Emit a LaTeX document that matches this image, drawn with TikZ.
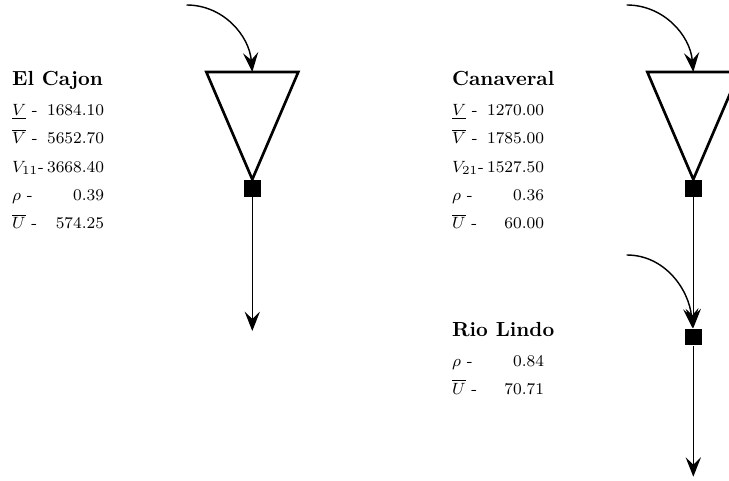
\documentclass[tikz,border=0pt]{standalone}
\usepackage{amsmath,amssymb}
\usepackage{tikz}
\usetikzlibrary{arrows.meta,positioning,calc}
\renewcommand{\arraystretch}{1.46}
\newcommand{\rowval}[2]{\makebox[17.6pt][l]{#1}\makebox[27.4pt][r]{#2}}
\tikzset{
    reservoir/.style={line width=1.3pt, line join=miter},
    plant/.style={rectangle, fill=black, minimum size=8.3pt, inner sep=0pt},
    river/.style={line width=0.5pt, -{Stealth[length=9.5pt,width=7.5pt,inset=3.6pt]}},
    inflow/.style={line width=0.7pt, -{Stealth[length=9.5pt,width=7.5pt,inset=3.6pt]}},
    station/.style={anchor=base west, inner sep=0pt, font=\footnotesize},
}

\begin{document}
\begin{tikzpicture}[x=0.49pt,y=0.49pt]
    \useasboundingbox (0,0) rectangle (729,481);
    \clip (0,0) rectangle (729,481);
    % El Cajon
    \coordinate (res1) at (252.3,409);
    \coordinate (in1) at (186.5,476);
    \coordinate (out1) at (252.3,150);
    \node[plant] (p1) at (252.3,292.7) {};
    \draw[reservoir] (res1) ++(-46,0) -- ++(92,0) -- (p1.north) -- cycle;
    \draw[inflow] (in1) to[out=0,in=95] (res1);
    \draw[river] (p1) -- (out1);
    \node[station] (cajon) at (11.7,395) {%
        \begin{tabular}[t]{@{}l@{}}
            {\normalsize\bfseries El Cajon}\\[0.6pt]
            \rowval{$\underline{V}$ -}{1684.10}\\
            \rowval{$\overline{V}$ -}{5652.70}\\
            \rowval{$V_{11}$-}{3668.40}\\
            \rowval{$\rho$ -}{0.39}\\
            \rowval{$\overline{U}$ -}{574.25}
        \end{tabular}};
    % Canaveral and Rio Lindo
    \coordinate (res2) at (693.3,409);
    \coordinate (in2) at (626.7,476);
    \coordinate (in3) at (626.7,226);
    \coordinate (out2) at (693.3,4.3);
    \node[plant] (p2) at (693.3,292.7) {};
    \node[plant] (p3) at (693.3,144) {};
    \draw[reservoir] (res2) ++(-46,0) -- ++(92,0) -- (p2.north) -- cycle;
    \draw[inflow] (in2) to[out=0,in=95] (res2);
    \draw[river] (p2) -- (p3);
    \draw[inflow] (in3) to[out=0,in=95] (p3);
    \draw[river] (p3) -- (out2);
    \node[station] (canaveral) at (451.7,395) {%
        \begin{tabular}[t]{@{}l@{}}
            {\normalsize\bfseries Canaveral}\\[0.6pt]
            \rowval{$\underline{V}$ -}{1270.00}\\
            \rowval{$\overline{V}$ -}{1785.00}\\
            \rowval{$V_{21}$-}{1527.50}\\
            \rowval{$\rho$ -}{0.36}\\
            \rowval{$\overline{U}$ -}{60.00}
        \end{tabular}};
    \node[station] (lindo) at (451.7,144.5) {%
        \begin{tabular}[t]{@{}l@{}}
            {\normalsize\bfseries Rio Lindo}\\[0.6pt]
            \rowval{$\rho$ -}{0.84}\\
            \rowval{$\overline{U}$ -}{70.71}
        \end{tabular}};
\end{tikzpicture}
\end{document}
